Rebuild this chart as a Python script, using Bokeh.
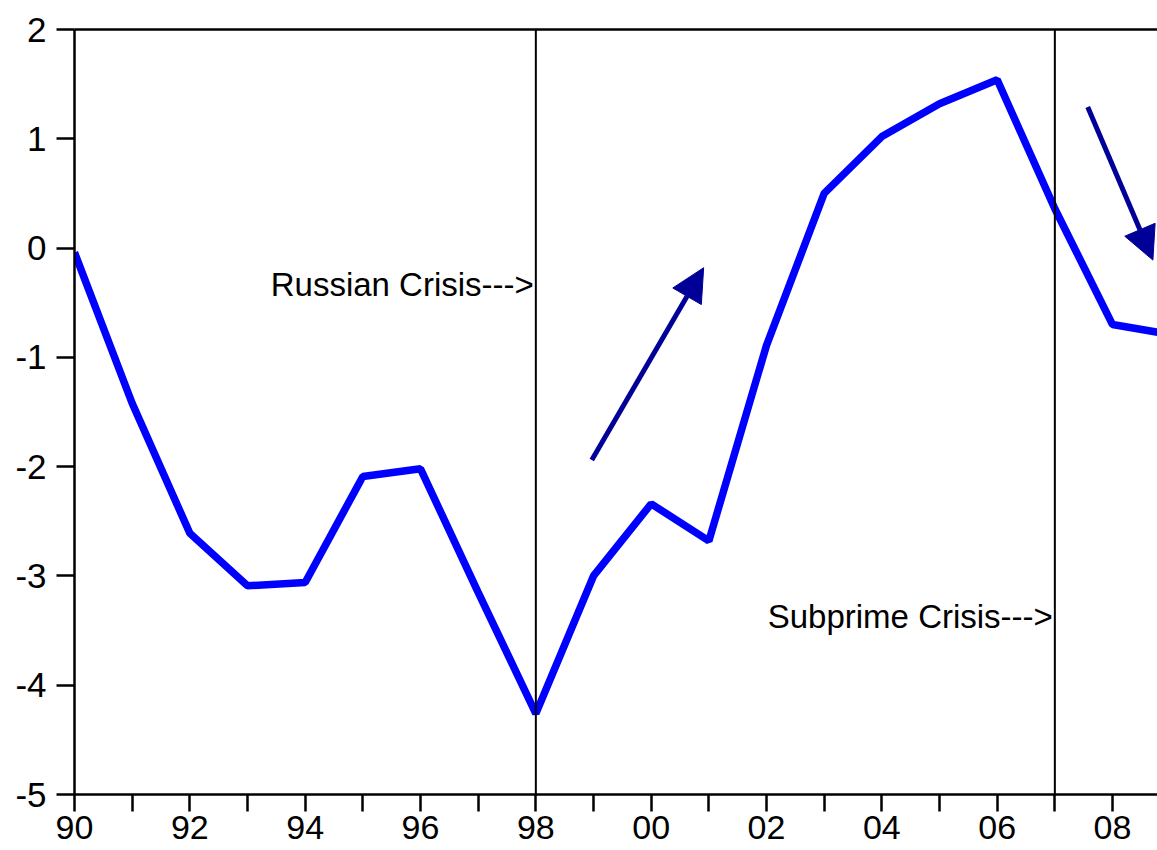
from bokeh.plotting import figure
from bokeh.models import FixedTicker, Span, Label, Arrow, NormalHead, LinearAxis, Range1d
from bokeh.embed import file_html
from bokeh.resources import INLINE

# ---- data ----
years = list(range(1990, 2010))
values = [-0.04, -1.42, -2.61, -3.09, -3.06, -2.09, -2.02, -3.15, -4.26, -3.00,
          -2.34, -2.68, -0.89, 0.50, 1.02, 1.32, 1.54, 0.36, -0.70, -0.79]
x_tick_years = list(range(1990, 2009))
x_label_years = [1990, 1992, 1994, 1996, 1998, 2000, 2002, 2004, 2006, 2008]
x_tick_labels = ["90", "92", "94", "96", "98", "00", "02", "04", "06", "08"]
y_ticks = [-5, -4, -3, -2, -1, 0, 1, 2]
y_tick_labels = ["-5", "-4", "-3", "-2", "-1", "0", "1", "2"]
crisis_years = [1998, 2007]
crisis_labels = ["Russian Crisis--->", "Subprime Crisis--->"]

FONT = "Liberation Sans"
NAVY = "#000099"

p = figure(width=1157, height=850, output_backend="svg", toolbar_location=None,
           x_range=Range1d(1990, 2008.78), y_range=Range1d(-5, 2),
           min_border_left=74, min_border_right=0, min_border_top=29,
           min_border_bottom=56,
           x_axis_location="below", y_axis_location="left")
p.outline_line_color = None
p.grid.visible = False
p.background_fill_color = "white"
p.border_fill_color = "white"

# x axis
xa = p.xaxis[0]
xa.ticker = FixedTicker(ticks=x_tick_years)
overrides = {y: "" for y in x_tick_years}
for yr, lab in zip(x_label_years, x_tick_labels):
    overrides[yr] = lab
xa.major_label_overrides = overrides
xa.major_tick_out = 17
xa.major_tick_in = 0
xa.minor_tick_out = 0
xa.minor_tick_in = 0
xa.major_tick_line_width = 2.5
xa.axis_line_width = 2.5
xa.axis_line_color = "black"
xa.major_tick_line_color = "black"
xa.major_label_text_font = FONT
xa.major_label_text_font_size = "34px"
xa.major_label_text_color = "black"
xa.major_label_standoff = 4

# y axis
ya = p.yaxis[0]
ya.ticker = FixedTicker(ticks=y_ticks)
ya.major_label_overrides = {t: l for t, l in zip(y_ticks, y_tick_labels)}
ya.major_tick_out = 18
ya.major_tick_in = 0
ya.minor_tick_out = 0
ya.minor_tick_in = 0
ya.major_tick_line_width = 2.5
ya.axis_line_width = 2.5
ya.axis_line_color = "black"
ya.major_tick_line_color = "black"
ya.major_label_text_font = FONT
ya.major_label_text_font_size = "35px"
ya.major_label_text_color = "black"
ya.major_label_standoff = 10

# top frame line
top = LinearAxis(ticker=FixedTicker(ticks=[]), major_label_text_font_size="0px",
                 major_tick_out=0, major_tick_in=0, minor_tick_out=0, minor_tick_in=0,
                 axis_line_width=2.5, axis_line_color="black")
p.add_layout(top, "above")

# crisis lines and labels
label_y = [-0.33, -3.37]
for yr, txt, ly in zip(crisis_years, crisis_labels, label_y):
    p.add_layout(Span(location=yr, dimension="height", line_color="black", line_width=2))
    p.add_layout(Label(x=yr, y=ly, x_offset=-2, text=txt, text_align="right",
                       text_baseline="middle", text_font=FONT,
                       text_font_size="33px", text_color="black"))

# main series
p.line(years, values, line_color="#0000FF", line_width=7.5)

# arrows
arrows = [((1998.97, -1.94), (2000.91, -0.18)), ((2007.57, 1.29), (2008.70, -0.11))]
for (xs, ys), (xe, ye) in arrows:
    p.add_layout(Arrow(end=NormalHead(size=33, fill_color=NAVY, line_color=NAVY),
                       x_start=xs, y_start=ys, x_end=xe, y_end=ye,
                       line_color=NAVY, line_width=5))

open("out.html", "w").write(file_html(p, INLINE))
